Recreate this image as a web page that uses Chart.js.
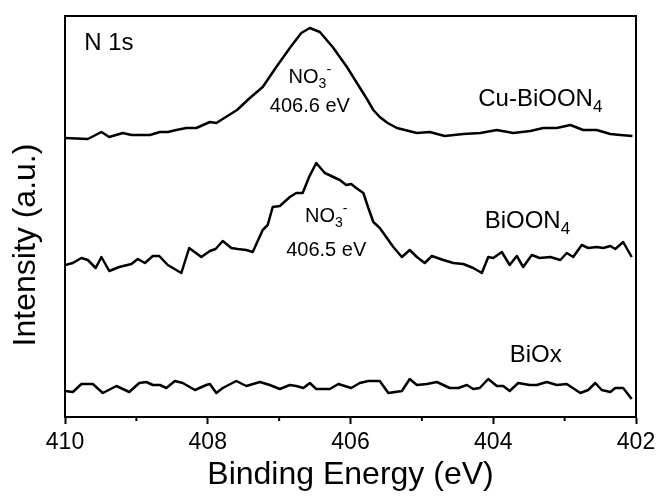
<!DOCTYPE html>
<html>
<head>
<meta charset="utf-8">
<script src="https://cdn.jsdelivr.net/npm/chart.js@4"></script>
<style>
html,body{margin:0;padding:0;background:#fff;}
#wrap{width:664px;height:498px;}
</style>
</head>
<body>
<div id="wrap"><canvas id="xps" width="664" height="498"></canvas></div>
<script>
// N 1s XPS spectra, stacked (arbitrary intensity offsets)
const cuEnergy = [410.00,409.68,409.49,409.38,409.19,409.07,408.81,408.67,408.56,408.44,
  408.30,408.16,407.97,407.88,407.59,407.41,407.23,407.04,406.85,406.69,
  406.57,406.43,406.25,406.05,405.91,405.77,405.68,405.59,405.48,405.35,
  405.07,404.89,404.68,404.42,404.18,403.95,403.72,403.48,403.30,403.11,
  402.92,402.74,402.55,402.36,402.22,402.05];
const cuIntensity = [279,278,285,280,284,282,282,285,285,287,
  289,289,295,294,307,319,330,350,369,384,
  389,385,370,350,334,318,307,300,294,289,
  284,285,281,283,284,287,284,286,289,289,
  292,287,287,283,282,281];

const bioonEnergy = [410.00,409.89,409.77,409.68,409.57,409.49,409.38,409.24,409.07,408.98,
  408.88,408.77,408.68,408.56,408.37,408.26,408.09,407.97,407.89,407.79,
  407.67,407.58,407.46,407.37,407.23,407.16,407.09,406.99,406.85,406.76,
  406.67,406.58,406.48,406.36,406.24,406.15,406.06,405.99,405.92,405.82,
  405.75,405.68,405.59,405.50,405.40,405.28,405.17,405.07,404.96,404.86,
  404.70,404.56,404.42,404.28,404.16,404.07,404.00,403.88,403.77,403.67,
  403.58,403.46,403.35,403.20,403.06,402.97,402.88,402.76,402.67,402.55,
  402.46,402.36,402.29,402.18,402.06];
const bioonIntensity = [152,154,159,157,149,160,146,150,153,158,
  154,161,161,152,144,169,160,166,168,176,
  169,168,167,165,187,192,210,211,220,224,
  224,240,254,244,240,237,232,233,229,224,
  209,195,189,180,170,160,167,160,154,161,
  157,154,153,149,144,160,159,165,152,161,
  150,162,159,160,157,164,160,172,169,170,
  169,171,168,175,160];

const bioxEnergy = [410.00,409.89,409.77,409.61,409.47,409.28,409.10,408.96,408.86,408.77,
  408.67,408.58,408.46,408.35,408.18,408.02,407.97,407.88,407.79,407.60,
  407.46,407.27,407.13,406.99,406.85,406.76,406.66,406.57,406.48,406.29,
  406.17,405.99,405.87,405.75,405.59,405.47,405.28,405.17,405.07,404.93,
  404.79,404.61,404.49,404.37,404.28,404.19,404.07,403.95,403.86,403.77,
  403.65,403.49,403.39,403.25,403.11,402.97,402.78,402.67,402.57,402.48,
  402.36,402.29,402.18,402.06];
const bioxIntensity = [26,25,33,33,24,31,25,34,35,32,
  32,29,36,34,27,32,33,24,29,36,
  31,35,32,28,32,31,29,34,28,28,
  33,29,34,36,36,24,26,38,32,33,
  35,29,29,32,28,29,38,31,31,26,
  34,32,32,35,32,33,24,27,34,27,
  25,29,29,18];

const sampleNames = ['Cu-BiOON', 'BiOON', 'BiOx'];
const sampleSubs = ['4', '4', ''];
const peakEnergies = ['406.6 eV', '406.5 eV'];
const xTicks = [410, 408, 406, 404, 402];
const minorTicks = [409, 407, 405, 403];
const yTitle = 'Intensity (a.u.)';

const FONT = '"Liberation Sans", Arial, sans-serif';

function pts(xs, ys){ return xs.map((e,i) => ({ x: e, y: ys[i] })); }

// text with optional subscript / superscript pieces
function drawPieces(ctx, pieces, x, y, align){
  let w = 0;
  pieces.forEach(p => { ctx.font = p.size + 'px ' + FONT; w += ctx.measureText(p.t).width; });
  let cx = align === 'center' ? x - w/2 : x;
  pieces.forEach(p => {
    ctx.font = p.size + 'px ' + FONT;
    ctx.fillText(p.t, cx, y + (p.dy || 0));
    cx += ctx.measureText(p.t).width;
  });
}

const labelPlugin = {
  id: 'labels',
  afterDatasetsDraw(chart){
    const { ctx, scales: { x, y }, chartArea: a } = chart;
    ctx.save();
    ctx.fillStyle = '#000';
    ctx.textBaseline = 'middle';
    ctx.textAlign = 'left';

    // frame
    ctx.strokeStyle = '#000';
    ctx.lineWidth = 2;
    ctx.strokeRect(a.left, a.top, a.right - a.left, a.bottom - a.top);

    // minor ticks
    minorTicks.forEach(v => {
      const px = x.getPixelForValue(v);
      ctx.beginPath(); ctx.moveTo(px, a.bottom); ctx.lineTo(px, a.bottom + 4); ctx.stroke();
    });

    // y title (sits a bit below the axis centre in the original)
    ctx.save();
    ctx.translate(26, 245);
    ctx.rotate(-Math.PI / 2);
    ctx.textAlign = 'center';
    ctx.font = '32px ' + FONT;
    ctx.fillText(yTitle, 0, 0);
    ctx.restore();

    drawPieces(ctx, [{ t: 'N 1s', size: 24 }], x.getPixelForValue(409.73), y.getPixelForValue(373.5), 'left');

    const namePos = [[404.21, 318], [404.12, 196], [403.77, 62]];
    sampleNames.forEach((n, i) => {
      const pieces = [{ t: n, size: 24 }];
      if (sampleSubs[i]) pieces.push({ t: sampleSubs[i], size: 17, dy: 8 });
      drawPieces(ctx, pieces, x.getPixelForValue(namePos[i][0]), y.getPixelForValue(namePos[i][1]), 'left');
    });

    const peakPos = [[406.57, 339.5, 310.5], [406.34, 200.5, 167]];
    peakEnergies.forEach((t, i) => {
      const px = x.getPixelForValue(peakPos[i][0]);
      drawPieces(ctx, [{ t: 'NO', size: 20 }, { t: '3', size: 14, dy: 7 }, { t: '-', size: 14, dy: -7 }],
        px, y.getPixelForValue(peakPos[i][1]), 'center');
      drawPieces(ctx, [{ t: t, size: 20 }], px, y.getPixelForValue(peakPos[i][2]), 'center');
    });
    ctx.restore();
  }
};

const lineStyle = { borderColor: '#000', borderWidth: 2.5, pointRadius: 0, tension: 0, borderJoinStyle: 'round', fill: false };

new Chart(document.getElementById('xps'), {
  type: 'line',
  data: {
    datasets: [
      { label: sampleNames[0], data: pts(cuEnergy, cuIntensity), ...lineStyle },
      { label: sampleNames[1], data: pts(bioonEnergy, bioonIntensity), ...lineStyle },
      { label: sampleNames[2], data: pts(bioxEnergy, bioxIntensity), ...lineStyle }
    ]
  },
  options: {
    responsive: false,
    animation: false,
    layout: { padding: { top: 16, right: 28, left: 0, bottom: 0 } },
    plugins: { legend: { display: false }, tooltip: { enabled: false } },
    scales: {
      x: {
        type: 'linear', min: 402, max: 410, reverse: true,
        afterFit: s => { s.height = 81; },
        border: { display: true, color: '#000', width: 2 },
        grid: {
          drawOnChartArea: false, drawTicks: true, tickLength: 7, tickWidth: 2,
          tickColor: c => xTicks.includes(c.tick.value) ? '#000' : 'rgba(0,0,0,0)'
        },
        ticks: {
          stepSize: 1, autoSkip: false, maxRotation: 0, padding: 5, color: '#000',
          font: { family: FONT, size: 23 },
          callback: v => xTicks.includes(v) ? String(v) : ''
        },
        title: { display: true, text: 'Binding Energy (eV)', color: '#000',
          font: { family: FONT, size: 32 }, padding: { top: 0, bottom: 4 } }
      },
      y: {
        type: 'linear', min: 0, max: 401,
        afterFit: s => { s.width = 65; },
        border: { display: true, color: '#000', width: 2 },
        grid: { display: false },
        ticks: { display: false },
        title: { display: false }
      }
    }
  },
  plugins: [labelPlugin]
});
</script>
</body>
</html>
